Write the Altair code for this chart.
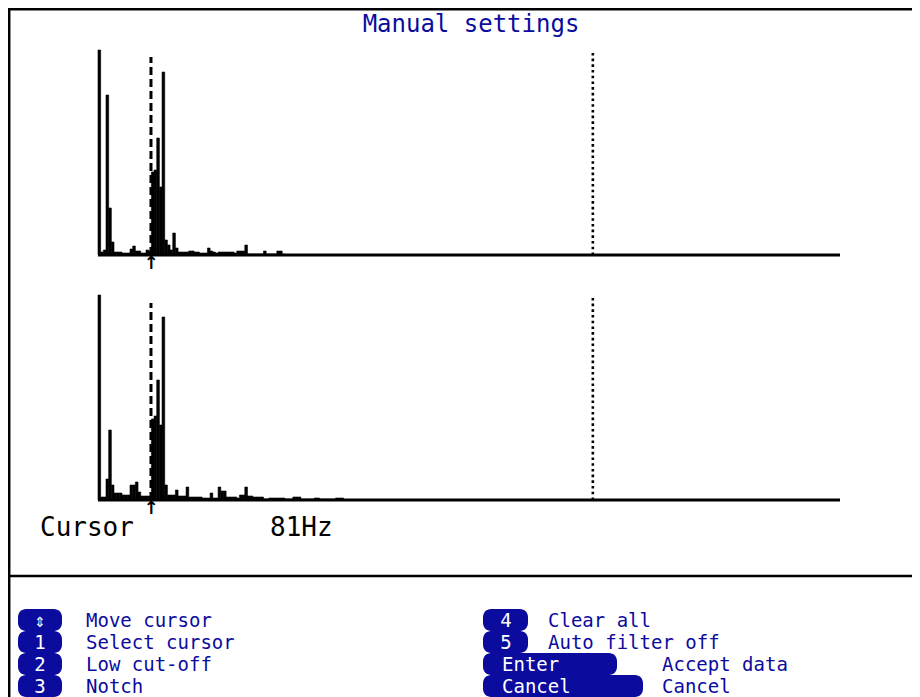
import altair as alt
import pandas as pd

# ---------------- data ----------------
title_text = "Manual settings"

# spectrum bins (height in screen-pixel units, full scale = 205)
top_heights = [205, 3, 5, 160, 47, 13, 3, 3, 3, 2, 2, 2, 6, 9, 4, 4, 2, 2, 5, 4,
               83, 85, 117, 68, 183, 15, 10, 5, 22, 7, 3, 3, 3, 3, 4, 4, 3, 3, 2, 2,
               2, 7, 4, 3, 2, 3, 3, 3, 3, 3, 3, 2, 4, 4, 4, 10, 1, 1, 1, 1,
               1, 1, 4, 1, 1, 1, 1, 4, 4, 1]
bottom_heights = [205, 3, 3, 21, 70, 15, 7, 7, 7, 5, 5, 5, 15, 15, 18, 8, 4, 4, 4, 4,
                  81, 84, 120, 75, 183, 15, 5, 5, 5, 10, 4, 4, 4, 13, 3, 3, 3, 3, 3, 2,
                  2, 2, 7, 2, 2, 13, 9, 9, 3, 3, 3, 3, 2, 5, 5, 13, 4, 4, 3, 3,
                  3, 3, 1, 1, 2, 2, 2, 2, 2, 2, 1, 1, 1, 3, 3, 3, 1, 1, 1, 1,
                  1, 2, 2, 1, 1, 1, 1, 1, 1, 2, 2, 2]
N_BINS = 278
FULL = 205
cursor_bin = 19.85
marker_bin = 185.4
cursor_top = [198, 197]
marker_top = [205, 205]

cursor_label = "Cursor"
cursor_freq_hz = 81

menu_keys_left = ["⇕", "1", "2", "3"]
menu_left = ["Move cursor", "Select cursor", "Low cut-off", "Notch"]
menu_keys_right = ["4", "5", "Enter", "Cancel"]
menu_right = ["Clear all", "Auto filter off", "Accept data", "Cancel"]

# ---------------- layout / style ----------------
W, H = 904, 689
BLUE = "#0b0b9e"
FONT = "DejaVu Sans Mono"


def spectrum(heights, y_range, c_top, m_top):
    df = pd.DataFrame({"bin": list(range(len(heights))), "h": heights})
    df["bin_end"] = df["bin"] + 1
    xs = alt.Scale(domain=[0, N_BINS], range=[90, 832], nice=False, zero=False)
    ys = alt.Scale(domain=[0, FULL], range=y_range, nice=False)
    one = pd.DataFrame({"a": [0]})
    bars = alt.Chart(df).mark_rect(color="black", stroke="black", strokeWidth=0.6).encode(
        x=alt.X("bin:Q", scale=xs, axis=None),
        x2="bin_end:Q",
        y=alt.Y("h:Q", scale=ys, axis=None),
        y2=alt.datum(0),
    )
    base = alt.Chart(one).mark_rule(color="black", strokeWidth=3).encode(
        x=alt.datum(0), x2=alt.datum(N_BINS), y=alt.datum(0)
    )
    cursor = alt.Chart(one).mark_rule(color="black", strokeWidth=3, strokeDash=[8, 4]).encode(
        x=alt.datum(cursor_bin), y=alt.datum(0), y2=alt.datum(c_top)
    )
    marker = alt.Chart(one).mark_rule(color="black", strokeWidth=2.6, strokeDash=[2.6, 3.1]).encode(
        x=alt.datum(marker_bin), y=alt.datum(0), y2=alt.datum(m_top)
    )
    arrow = alt.Chart(one).mark_text(text="↑", baseline="top", dy=0, fontSize=18, fontWeight="bold",
                                     font="DejaVu Sans", color="black").encode(
        x=alt.datum(cursor_bin), y=alt.datum(0)
    )
    return alt.layer(bars, base, cursor, marker, arrow)


def text_layer(txt, x, y, color, size, align="left"):
    return alt.Chart(pd.DataFrame({"t": [txt]})).mark_text(
        align=align, baseline="alphabetic", font=FONT, fontSize=size, color=color
    ).encode(text="t:N", x=alt.value(x), y=alt.value(y))


def blob(x0, x1, yc):
    return alt.Chart(pd.DataFrame({"a": [0]})).mark_rect(color=BLUE, cornerRadius=8).encode(
        x=alt.value(x0), x2=alt.value(x1), y=alt.value(yc - 11), y2=alt.value(yc + 11)
    )


def frame_rule(**enc):
    return alt.Chart(pd.DataFrame({"a": [0]})).mark_rule(color="black", strokeWidth=2.5).encode(**enc)


layers = []
# frame
layers.append(frame_rule(x=alt.value(1.2), y=alt.value(0), y2=alt.value(H)))
layers.append(frame_rule(y=alt.value(1.2), x=alt.value(0), x2=alt.value(W)))
layers.append(frame_rule(y=alt.value(568), x=alt.value(0), x2=alt.value(W)))

# title
layers.append(text_layer(title_text, 463, 24, BLUE, 24, align="center"))

# spectra
layers.append(spectrum(top_heights, [247, 42], cursor_top[0], marker_top[0]))
layers.append(spectrum(bottom_heights, [492, 287], cursor_top[1], marker_top[1]))

# cursor readout
layers.append(text_layer(cursor_label, 32, 528, "black", 26))
layers.append(text_layer(f"{cursor_freq_hz}Hz", 262, 528, "black", 26))

# menu
MENU_SIZE = 19
row_base = [619, 641, 663, 685]
right_blob_end = [520, 520, 609, 635]
for i in range(4):
    yc = row_base[i] - 7
    layers.append(blob(10, 54, yc))
    layers.append(blob(475, right_blob_end[i], yc))
for i in range(4):
    yb = row_base[i]
    layers.append(text_layer(menu_keys_left[i], 32, yb, "white", MENU_SIZE, align="center"))
    layers.append(text_layer(menu_left[i], 78, yb, BLUE, MENU_SIZE))
    if len(menu_keys_right[i]) == 1:
        layers.append(text_layer(menu_keys_right[i], 498, yb, "white", MENU_SIZE, align="center"))
    else:
        layers.append(text_layer(menu_keys_right[i], 494, yb, "white", MENU_SIZE))
    layers.append(text_layer(menu_right[i], 540 if i < 2 else 654, yb, BLUE, MENU_SIZE))

chart = alt.layer(*layers).resolve_scale(x="independent", y="independent").properties(
    width=W, height=H, padding=0, autosize=alt.AutoSizeParams(type="none"),
    background="white",
).configure_view(stroke=None)

chart.save("out.html", embed_options={"renderer": "svg", "actions": False})
